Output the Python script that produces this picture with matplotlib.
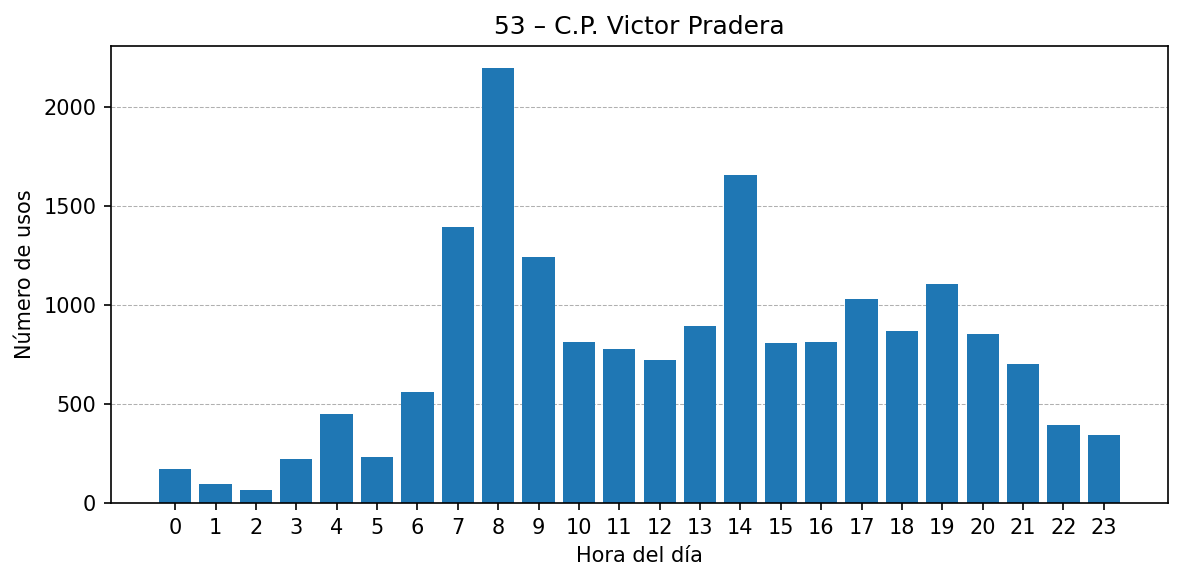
import numpy as np
import matplotlib
matplotlib.use("Agg")
import matplotlib.pyplot as plt

horas = list(range(24))
usos = [172, 96, 66, 222, 449, 232, 561, 1394, 2197, 1242, 813, 778,
        722, 894, 1657, 808, 813, 1030, 869, 1106, 854, 702, 394, 343]
titulo = "53 – C.P. Victor Pradera"

fig, ax = plt.subplots(figsize=(1184 / 150, 581 / 150), dpi=150)
fig.subplots_adjust(left=0.0937, right=0.9865, top=0.9208, bottom=0.1343)

ax.bar(horas, usos, color="#1f77b4")
ax.set_xticks(horas)
ax.set_xlabel("Hora del día")
ax.set_ylabel("Número de usos")
ax.set_title(titulo)
ax.grid(axis="y", linestyle="--", linewidth=0.5, color="#b0b0b0")
ax.set_axisbelow(True)

fig.savefig("out.png", dpi=150)
